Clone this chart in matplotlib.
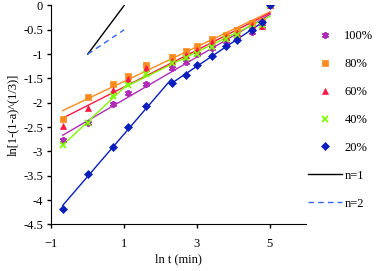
import numpy as np
import matplotlib
matplotlib.use("Agg")
import matplotlib.pyplot as plt

plt.rcParams['font.family'] = ['Liberation Serif', 'DejaVu Serif']
plt.rcParams['font.size'] = 9

# ln t values (min)
lnt = [-0.69, 0.00, 0.69, 1.10, 1.61, 2.30, 2.71, 3.00, 3.40, 3.81, 4.09, 4.50, 4.79, 5.01]

y100 = [-2.77, -2.42, -2.03, -1.81, -1.62, -1.29, -1.16, -0.99, -0.88, -0.73, -0.64, -0.55, -0.42, 0.0]
y80 = [-2.34, -1.89, -1.62, -1.45, -1.23, -1.07, -0.93, -0.84, -0.70, -0.61, -0.51, -0.37, -0.33, 0.0]
y60 = [-2.48, -2.11, -1.74, -1.52, -1.29, -1.14, -1.02, -0.92, -0.75, -0.65, -0.56, -0.40, -0.42, 0.0]
y40 = [-2.87, -2.41, -1.86, -1.64, -1.40, -1.19, -1.09, -0.99, -0.85, -0.68, -0.60, -0.47, -0.40, 0.0]
y20 = [-4.18, -3.47, -2.90, -2.50, -2.07, -1.59, -1.44, -1.23, -1.03, -0.83, -0.71, -0.51, -0.35, 0.0]

# reference slopes
n1_x = [0, 1]
n1_y = [-1, 0]
n2_x = [0, 1]
n2_y = [-1, -0.5]

series = [
    ('100%', y100, '#B02CB8', (6, 2, 0), 5, [(0, 14)]),
    ('80%', y80, '#FF8A1E', 's', 4, [(0, 14)]),
    ('60%', y60, '#FF1744', '^', 4.5, [(0, 14)]),
    ('40%', y40, '#7CFC00', 'x', 4.5, [(0, 4), (3, 14)]),
    ('20%', y20, '#0A1EBE', 'D', 3.6, [(0, 6), (5, 13)]),
]

fig = plt.figure(figsize=(3.78, 2.71), dpi=100)
ax = fig.add_axes([0.136, 0.172, 0.674, 0.808])

x = np.array(lnt)
for name, ys, col, mk, ms, segs in series:
    ys = np.array(ys)
    for a, b in segs:
        k, c = np.polyfit(x[a:b], ys[a:b], 1)
        xx = np.array([x[a], x[b - 1]])
        ax.plot(xx, k * xx + c, color=col, lw=1, zorder=2)
    ax.plot(x, ys, linestyle='none', marker=mk, color=col, ms=ms,
            mew=1.3 if mk in ('x', (6, 2, 0)) else 0.5, label=name, zorder=3)

ax.plot(n1_x, n1_y, color='black', lw=1, label='n=1')
ax.plot(n2_x, n2_y, color='#3366FF', lw=1, ls=(0, (4, 3)), label='n=2')

ax.set_xlim(-1, 6)
ax.set_ylim(-4.5, 0)
ax.set_xticks([-1, 1, 3, 5])
ax.set_yticks(np.arange(-4.5, 0.01, 0.5))
ax.set_yticklabels(['-4.5', '-4', '-3.5', '-3', '-2.5', '-2', '-1.5', '-1', '-0.5', '0'])
ax.set_xlabel('ln t (min)', labelpad=2)
ax.set_ylabel('ln[1-(1-a)^(1/3)]', labelpad=3)
for s in ('top', 'right'):
    ax.spines[s].set_visible(False)
ax.tick_params(direction='out', length=3, width=1, pad=3)
ax.tick_params(axis='x', pad=7)

ax.legend(loc='upper left', bbox_to_anchor=(0.815, 0.888), bbox_transform=fig.transFigure,
          frameon=False, handlelength=2.7, handletextpad=0.2, labelspacing=1.27,
          borderaxespad=0, borderpad=0, fontsize=9)

fig.savefig('out.png', dpi=100)
